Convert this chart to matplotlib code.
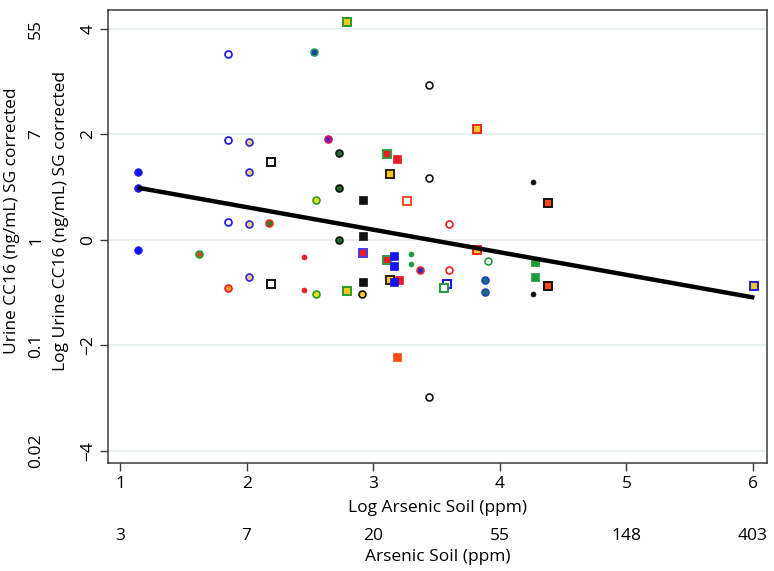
import numpy as np
import matplotlib
matplotlib.use("Agg")
import matplotlib.pyplot as plt
import matplotlib.transforms as mtransforms

plt.rcParams['font.family'] = ['Open Sans', 'DejaVu Sans']

# log soil arsenic, log urine CC16 and the marker group of each point
log_soil = [1.14, 1.14, 1.14,
            1.855, 1.855, 1.855,
            2.02, 2.02, 2.02, 2.02,
            2.535, 2.64,
            2.73, 2.73, 2.73,
            2.55, 2.55,
            2.18, 1.62,
            2.45, 2.45,
            1.85, 2.91,
            3.44, 3.44, 3.44,
            3.60, 3.60,
            4.26, 4.26,
            3.30, 3.30,
            3.37,
            3.88, 3.88,
            3.91,
            2.19, 2.19,
            2.79, 2.79,
            2.92, 2.92, 2.92,
            3.11, 3.11,
            3.19, 3.20,
            3.135, 3.13,
            3.27,
            3.82, 3.82,
            4.38, 4.38,
            2.92,
            3.16, 3.16, 3.16,
            4.28, 4.28,
            3.58, 3.56,
            3.19,
            6.01]
log_cc16 = [1.28, 0.99, -0.19,
            3.52, 1.90, 0.34,
            1.86, 1.28, 0.30, -0.71,
            3.57, 1.91,
            1.65, 0.99, -0.01,
            0.76, -1.02,
            0.33, -0.26,
            -0.33, -0.95,
            -0.92, -1.02,
            2.93, 1.17, -2.98,
            0.30, -0.57,
            1.09, -1.02,
            -0.27, -0.46,
            -0.57,
            -0.76, -0.99,
            -0.40,
            1.48, -0.83,
            4.14, -0.97,
            0.76, 0.08, -0.80,
            1.62, -0.39,
            1.54, -0.76,
            1.25, -0.76,
            0.73,
            2.10, -0.20,
            0.70, -0.88,
            -0.24,
            -0.30, -0.49, -0.79,
            -0.41, -0.71,
            -0.84, -0.92,
            -2.22,
            -0.88]
group = (['blue_dot'] * 3 + ['blue_ring'] * 3 + ['blue_tan'] * 4
         + ['teal', 'purple'] + ['dkgreen'] * 3 + ['yel_green_c'] * 2
         + ['red_green_c', 'brown_green_c'] + ['red_small'] * 2
         + ['orange_red_c', 'yel_black_c'] + ['black_ring'] * 3
         + ['red_ring'] * 2 + ['black_small'] * 2 + ['green_small'] * 2
         + ['blue_red_c'] + ['blue_green_c'] * 2 + ['green_ring']
         + ['black_sq_open'] * 2 + ['yel_green_sq'] * 2 + ['black_sq'] * 3
         + ['red_green_sq'] * 2 + ['red_sq'] * 2 + ['yel_black_sq'] * 2
         + ['red_open_sq'] + ['yel_red_sq'] * 2 + ['orange_black_sq'] * 2
         + ['red_blue_sq'] + ['blue_sq'] * 3 + ['green_sq'] * 2
         + ['blue_open_sq', 'green_open_sq', 'orange_sq', 'yel_blue_sq'])

# fitted line: log_cc16 = intercept + slope * log_soil
fit_intercept = 1.478
fit_slope = -0.428

x_ticks = [1, 2, 3, 4, 5, 6]
x_ticks_raw = ['3', '7', '20', '55', '148', '403']
y_ticks = [-4, -2, 0, 2, 4]
y_ticks_raw = ['0.02', '0.1', '1', '7', '55']

BLUE = '#1414f0'
GREEN = '#1f9a3c'
RED = '#ec1c24'
YEL = '#f7c81e'
TAN = '#ecc98f'
DKG = '#1d6b2c'
ORG = '#ff4a14'

# marker, face, edge, size (pt), edge width
styles = {
    'blue_dot': ('o', BLUE, BLUE, 5.5, 0.5),
    'blue_ring': ('o', 'white', BLUE, 5.0, 1.2),
    'blue_tan': ('o', TAN, '#2a2ad0', 5.0, 1.2),
    'teal': ('o', '#1a3c9c', '#1f9a6c', 5.0, 1.2),
    'purple': ('o', '#6a1ab0', '#d4145a', 5.0, 1.2),
    'dkgreen': ('o', DKG, '#111111', 5.0, 1.2),
    'yel_green_c': ('o', '#e8e01c', '#2aa020', 5.0, 1.2),
    'red_green_c': ('o', '#3a7a2a', '#e8281c', 5.0, 1.2),
    'brown_green_c': ('o', '#c8501c', '#2a9a3a', 5.0, 1.2),
    'red_small': ('o', RED, RED, 3.6, 0.5),
    'orange_red_c': ('o', '#ffa01c', RED, 5.0, 1.2),
    'yel_black_c': ('o', YEL, '#111111', 5.0, 1.2),
    'black_ring': ('o', 'white', '#111111', 5.0, 1.2),
    'red_ring': ('o', 'white', RED, 5.0, 1.2),
    'black_small': ('o', '#111111', '#111111', 3.6, 0.5),
    'green_small': ('o', GREEN, GREEN, 3.6, 0.5),
    'blue_red_c': ('o', '#2a2ab0', '#e8283c', 5.0, 1.2),
    'blue_green_c': ('o', '#1a6a7a', '#2040c0', 5.0, 1.2),
    'green_ring': ('o', 'white', GREEN, 5.0, 1.2),
    'black_sq_open': ('s', 'white', '#111111', 6.0, 1.4),
    'yel_green_sq': ('s', YEL, '#2a9a2a', 6.0, 1.4),
    'black_sq': ('s', '#111111', '#111111', 5.5, 0.5),
    'red_green_sq': ('s', RED, '#2aa040', 6.0, 1.4),
    'red_sq': ('s', RED, RED, 5.5, 0.5),
    'yel_black_sq': ('s', YEL, '#2a2010', 6.0, 1.4),
    'red_open_sq': ('s', 'white', '#f04a2a', 6.0, 1.4),
    'yel_red_sq': ('s', YEL, '#f0281c', 6.0, 1.4),
    'orange_black_sq': ('s', ORG, '#111111', 6.0, 1.4),
    'red_blue_sq': ('s', RED, '#4a3af0', 6.0, 1.4),
    'blue_sq': ('s', BLUE, BLUE, 5.5, 0.5),
    'green_sq': ('s', GREEN, GREEN, 5.5, 0.5),
    'blue_open_sq': ('s', 'white', BLUE, 6.0, 1.4),
    'green_open_sq': ('s', 'white', GREEN, 6.0, 1.4),
    'orange_sq': ('s', ORG, ORG, 5.5, 0.5),
    'yel_blue_sq': ('s', YEL, '#2020d0', 6.0, 1.4),
}

W, H = 774, 571
fig = plt.figure(figsize=(W / 100, H / 100), dpi=100)
ax = fig.add_axes([108 / W, (H - 463) / H, (767 - 108) / W, (463 - 10) / H])

for g in dict.fromkeys(group):
    idx = [i for i, gg in enumerate(group) if gg == g]
    m, fc, ec, ms, mew = styles[g]
    ax.plot([log_soil[i] for i in idx], [log_cc16[i] for i in idx],
            linestyle='none', marker=m, markerfacecolor=fc,
            markeredgecolor=ec, markersize=ms, markeredgewidth=mew, zorder=3)

xs = np.array([min(log_soil), max(log_soil)])
ax.plot(xs, fit_intercept + fit_slope * xs, color='black', lw=3.2,
        solid_capstyle='butt', zorder=4)

ax.set_xlim(0.905, 6.11)
ax.set_ylim(-4.23, 4.36)
ax.set_xticks(x_ticks)
ax.set_yticks(y_ticks)
ax.set_yticklabels([str(t).replace('-', '\u2212') for t in y_ticks],
                   rotation=90, va='center')
ax.grid(axis='y', color='#e6eff1', lw=1.3)
ax.set_axisbelow(True)
for s in ax.spines.values():
    s.set_color('#3a3a3a')
    s.set_linewidth(1.1)
ax.tick_params(direction='out', length=5.5, width=1.0, color='#3a3a3a',
               labelsize=12.5, pad=4)
ax.tick_params(axis='y', pad=3)

ax.set_xlabel('Log Arsenic Soil (ppm)', fontsize=12.5, labelpad=5.5)
ax.set_ylabel('Log Urine CC16 (ng/mL) SG corrected', fontsize=12.5)
ax.yaxis.set_label_coords(-0.0713, 0.535)
ax.yaxis.label.set_va('center')

# second scale rows (raw units)
tb = mtransforms.blended_transform_factory(ax.transData, ax.transAxes)
for t, lab in zip(x_ticks, x_ticks_raw):
    ax.text(t, -0.161, lab, transform=tb, ha='center', va='center', fontsize=12.5)
ax.text(0.5, -0.207, 'Arsenic Soil (ppm)', transform=ax.transAxes,
        ha='center', va='center', fontsize=12.5)

tl = mtransforms.blended_transform_factory(ax.transAxes, ax.transData)
for t, lab in zip(y_ticks, y_ticks_raw):
    ax.text(-0.109, t, lab, transform=tl, ha='center', va='center',
            rotation=90, fontsize=12.5)
ax.text(-0.146, 0.535, 'Urine CC16 (ng/mL) SG corrected', transform=ax.transAxes,
        ha='center', va='center', rotation=90, fontsize=12.5)

fig.savefig('out.png', dpi=100)
